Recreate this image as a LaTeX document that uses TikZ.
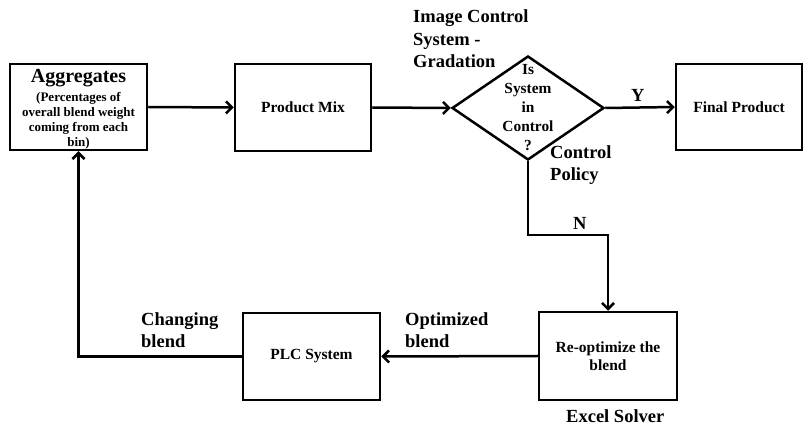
\documentclass[tikz,border=0pt]{standalone}
\usepackage{fontspec}
\setmainfont{Liberation Serif}
\usetikzlibrary{shapes.geometric,arrows.meta}
\tikzset{
  box/.style={draw, line width=2.5pt, rectangle, inner sep=0pt, align=center,
    font=\bfseries\fontsize{15.5}{18}\selectfont},
  arr/.style={line width=2.5pt, -{Straight Barb[length=6pt,width=12pt,line width=2.5pt]}},
  lbl/.style={inner sep=0pt, anchor=base west, align=left,
    font=\bfseries\fontsize{18.5}{22.5}\selectfont},
}
\begin{document}
\begin{tikzpicture}[x=1pt,y=-1pt]
\useasboundingbox (0,0) rectangle (804,427);
% boxes
\node[box, minimum width=137pt, minimum height=86pt] (agg) at (78.5,107) {};
\node[inner sep=0pt, anchor=base, font=\bfseries\fontsize{20}{20}\selectfont] (aggt) at (78.5,83) {Aggregates};
\node[inner sep=0pt, anchor=north, align=center, font=\bfseries\fontsize{13}{15}\selectfont] (aggs) at (78.5,92.5) {(Percentages of\\overall blend weight\\coming from each\\bin)};
\node[box, minimum width=136pt, minimum height=87pt] (pm) at (303,107.5) {Product Mix};
\node[draw, line width=2.5pt, diamond, inner sep=0pt, minimum width=152pt, minimum height=104pt] (dia) at (528,108) {};
\node[inner sep=0pt, anchor=north, align=center, font=\bfseries\fontsize{15.4}{19}\selectfont] (diat) at (528,64) {Is\\System\\in\\Control\\?};
\node[box, minimum width=126pt, minimum height=86pt] (fp) at (739,107) {Final Product};
\node[box, minimum width=138pt, minimum height=88pt] (ro) at (608,356) {Re-optimize the\\blend};
\node[box, minimum width=137pt, minimum height=87pt] (plc) at (311.5,356.5) {PLC System};
% connectors
\coordinate (nturn) at (608,235);
\draw[arr] (agg.east) -- (pm.west);
\draw[arr] (pm.east) -- (dia.west);
\draw[arr] (dia.east) -- (fp.west);
\draw[arr] (dia.south) |- (nturn) -- (ro.north);
\draw[arr] (ro.west) -- (plc.east);
\draw[arr] (plc.west) -| (agg.south);
% labels (base = baseline of last line)
\node[lbl] (ict) at (413,68) {Image Control\\System -\\Gradation};
\node[lbl] (cp) at (550,181) {Control\\Policy};
\node[lbl] (ylab) at (631,102) {Y};
\node[lbl] (nlab) at (573,230) {N};
\node[lbl] (cb) at (141,348) {Changing\\blend};
\node[lbl] (ob) at (405,348) {Optimized\\blend};
\node[lbl] (es) at (566,423) {Excel Solver};
\end{tikzpicture}
\end{document}
